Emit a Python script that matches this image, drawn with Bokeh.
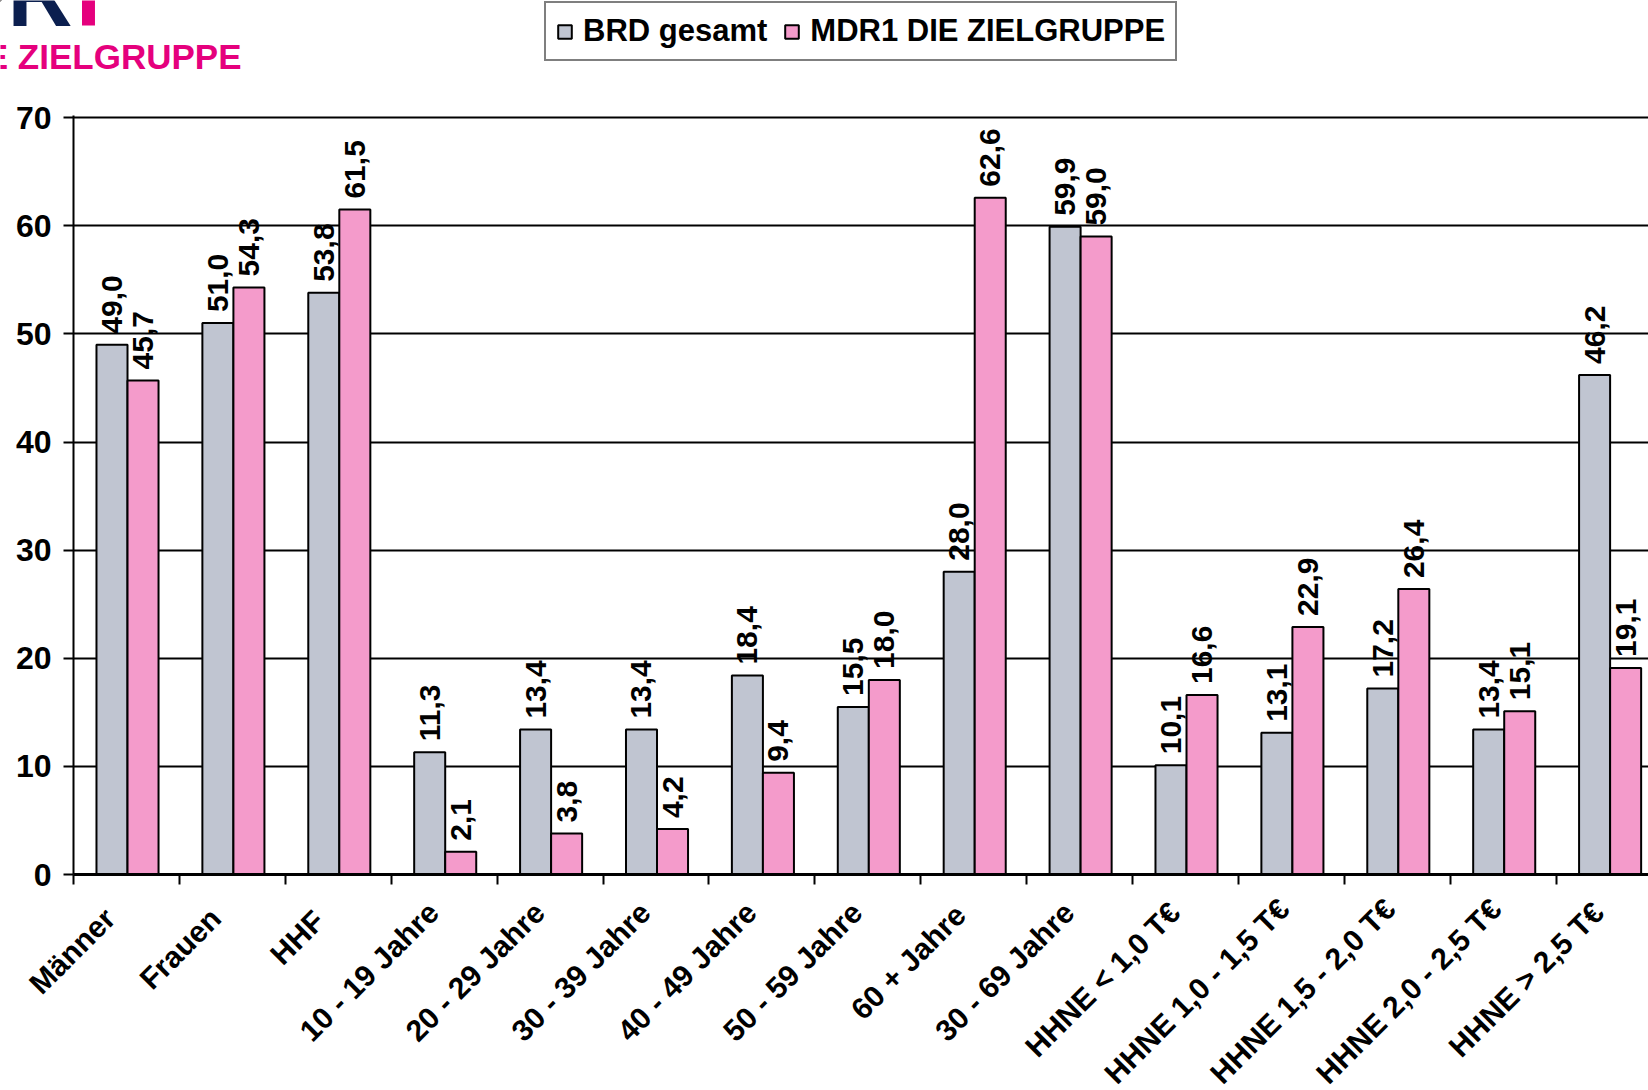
import math
from bokeh.plotting import figure
from bokeh.layouts import column
from bokeh.models import (ColumnDataSource, Range1d, FixedTicker, Legend, LegendItem)
from bokeh.core.properties import value
from bokeh.embed import file_html
from bokeh.resources import INLINE

# ---------------- data ----------------
categories = ["Männer", "Frauen", "HHF", "10 - 19 Jahre", "20 - 29 Jahre",
              "30 - 39 Jahre", "40 - 49 Jahre", "50 - 59 Jahre", "60 + Jahre",
              "30 - 69 Jahre", "HHNE < 1,0 T€", "HHNE 1,0 - 1,5 T€",
              "HHNE 1,5 - 2,0 T€", "HHNE 2,0 - 2,5 T€", "HHNE > 2,5 T€"]
brd_gesamt = [49.0, 51.0, 53.8, 11.3, 13.4, 13.4, 18.4, 15.5, 28.0, 59.9,
              10.1, 13.1, 17.2, 13.4, 46.2]
mdr1_zielgruppe = [45.7, 54.3, 61.5, 2.1, 3.8, 4.2, 9.4, 18.0, 62.6, 59.0,
                   16.6, 22.9, 26.4, 15.1, 19.1]
series_names = ["BRD gesamt", "MDR1 DIE ZIELGRUPPE"]
y_ticks = [0, 10, 20, 30, 40, 50, 60, 70]
logo_text = "DIE ZIELGRUPPE"

# ---------------- style ----------------
FONT = "Liberation Sans"
GRAY = "#C0C5D1"
PINK = "#F49BCB"
MAGENTA = "#E5007D"
NAVY = "#0B1F4F"

W = 1648
TOP_H = 100      # header strip: logo + legend
MAIN_H = 790     # bars, grid, y axis
LAB_H = 200      # rotated category labels
LEFT, MTOP, MBOTTOM = 73, 15, 16
CAT_PX = 105.9
x_start = -0.5
x_end = x_start + (W - LEFT) / CAT_PX
BW = 0.293
SHIFT = 0.01


def fmt(v):
    return f"{v:.1f}".replace(".", ",")


idx = list(range(len(categories)))
src_g = ColumnDataSource(dict(x=[i + SHIFT - BW / 2 for i in idx], top=brd_gesamt,
                              lab=[fmt(v) for v in brd_gesamt]))
src_p = ColumnDataSource(dict(x=[i + SHIFT + BW / 2 for i in idx], top=mdr1_zielgruppe,
                              lab=[fmt(v) for v in mdr1_zielgruppe]))

# rotated labels: the end of longer labels sits slightly further out along the text
along = [1.2 * (len(c) - 8) for c in categories]
src_cat = ColumnDataSource(dict(x=idx, name=categories,
                                xo=[-15 + s * 0.707 for s in along],
                                yo=[-s * 0.707 for s in along]))


def bare(fig):
    fig.frame_align = False
    fig.outline_line_color = None
    fig.background_fill_color = "white"
    fig.border_fill_color = "white"


# ---------------- header strip (logo + legend) ----------------
top = figure(width=W, height=TOP_H, x_range=Range1d(0, W), y_range=Range1d(TOP_H, 0),
             x_axis_type=None, y_axis_type=None, output_backend="svg",
             toolbar_location=None, min_border=0, min_border_left=0,
             min_border_right=0, min_border_top=0, min_border_bottom=0)
bare(top)
top.grid.visible = False

top.text(x=[241], y=[56], text=[logo_text], text_align="right",
         text_baseline="middle", text_font=value(FONT), text_font_size="35px",
         text_font_style="bold", text_color=MAGENTA)
top.text(x=[72], y=[-6], text=["R"], text_align="right", text_baseline="middle",
         text_font=value(FONT), text_font_size="90px", text_font_style="bold",
         text_color=NAVY)
top.text(x=[88], y=[-6], text=["T"], text_align="center", text_baseline="middle",
         text_font=value(FONT), text_font_size="90px", text_font_style="bold",
         text_color=MAGENTA)

# legend swatches (helper renderers lying outside the visible header area)
lg_g = top.vbar(x=[-50], top=[-50], bottom=[-60], width=1, fill_color=GRAY,
                line_color="black", line_width=2)
lg_p = top.vbar(x=[-50], top=[-50], bottom=[-60], width=1, fill_color=PINK,
                line_color="black", line_width=2)
legend = Legend(items=[LegendItem(label=series_names[0], renderers=[lg_g]),
                       LegendItem(label=series_names[1], renderers=[lg_p])],
                location=(544, TOP_H - 61), orientation="horizontal",
                border_line_color="black", border_line_width=2,
                background_fill_color="white", background_fill_alpha=1,
                label_text_font=FONT, label_text_font_size="31px",
                label_text_font_style="bold", label_text_color="black",
                glyph_width=17, glyph_height=17, label_standoff=10,
                spacing=16, padding=10, margin=0)
top.add_layout(legend)

# ---------------- main chart ----------------
p = figure(width=W, height=MAIN_H, x_range=Range1d(x_start, x_end), y_range=Range1d(0, 70.2),
           output_backend="svg", toolbar_location=None,
           min_border_left=LEFT, min_border_right=0, min_border_top=MTOP,
           min_border_bottom=MBOTTOM)
bare(p)

p.xgrid.visible = False
p.ygrid.ticker = FixedTicker(ticks=y_ticks)
p.ygrid.grid_line_color = "black"
p.ygrid.grid_line_width = 2

p.vbar(x="x", top="top", width=BW, bottom=0, source=src_g,
       fill_color=GRAY, line_color="black", line_width=2)
p.vbar(x="x", top="top", width=BW, bottom=0, source=src_p,
       fill_color=PINK, line_color="black", line_width=2)

for src in (src_g, src_p):
    p.text(x="x", y="top", text="lab", source=src, angle=math.pi / 2,
           text_align="left", text_baseline="middle", y_offset=-11,
           text_font=value(FONT), text_font_size="30px", text_font_style="bold",
           text_color="black")

# y axis
ya = p.yaxis[0]
ya.ticker = FixedTicker(ticks=y_ticks)
ya.axis_line_color = "black"
ya.axis_line_width = 2
ya.major_tick_line_color = "black"
ya.major_tick_line_width = 2
ya.major_tick_out = 10
ya.major_tick_in = 0
ya.minor_tick_line_color = None
ya.major_label_standoff = 12
ya.major_label_text_font = FONT
ya.major_label_text_font_size = "32px"
ya.major_label_text_font_style = "bold"
ya.major_label_text_color = "black"

# x axis: tick marks at category boundaries only
xa = p.xaxis[0]
xa.ticker = FixedTicker(ticks=[], minor_ticks=[i - 0.5 for i in range(len(categories) + 1)])
xa.axis_line_color = "black"
xa.axis_line_width = 3
xa.major_tick_line_color = None
xa.major_tick_out = 0
xa.major_tick_in = 0
xa.major_label_standoff = 0
xa.minor_tick_line_color = "black"
xa.minor_tick_line_width = 2
xa.minor_tick_out = 10
xa.minor_tick_in = 0

# ---------------- rotated category labels (same x scale, frame from page edge) ----------------
lab = figure(width=W, height=LAB_H, x_range=Range1d(x_start - LEFT / CAT_PX, x_end),
             y_range=Range1d(LAB_H, 0),
             x_axis_type=None, y_axis_type=None, output_backend="svg",
             toolbar_location=None, min_border=0, min_border_left=0, min_border_right=0,
             min_border_top=0, min_border_bottom=0)
bare(lab)
lab.grid.visible = False
lab.text(x="x", y=21, text="name", source=src_cat, angle=math.pi / 4,
         x_offset="xo", y_offset="yo", text_align="right", text_baseline="middle",
         text_font=value(FONT), text_font_size="30px", text_font_style="bold",
         text_color="black")

layout = column(top, p, lab, spacing=0)
open("out.html", "w").write(file_html(layout, INLINE))
